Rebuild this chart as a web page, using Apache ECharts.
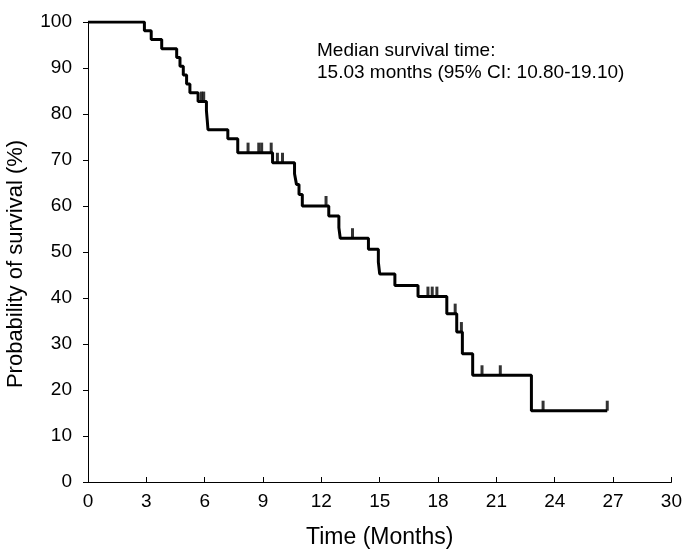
<!DOCTYPE html>
<html>
<head>
<meta charset="utf-8">
<script src="https://cdn.jsdelivr.net/npm/echarts@6/dist/echarts.min.js"></script>
<style>
html,body{margin:0;padding:0;background:#fff;}
#chart{width:685px;height:554px;}
</style>
</head>
<body>
<div id="chart"></div>
<script>
// Kaplan-Meier step points: time (months) where each survival level starts
var stepTimes = [0, 2.9, 3.25, 3.79, 4.56, 4.73, 4.9, 5.07, 5.24, 5.66, 6.09, 6.13, 6.17, 7.19, 7.7, 9.49, 10.62, 10.72, 10.85, 11.02, 12.38, 12.9, 12.97, 14.42, 14.93, 15.0, 15.78, 16.97, 18.45, 18.96, 19.25, 19.78, 22.8, 26.7];
var stepSurv  = [100, 98.1, 96.2, 94.2, 92.3, 90.4, 88.5, 86.5, 84.6, 82.7, 80.7, 78.7, 76.6, 74.6, 71.6, 69.4, 67.0, 64.7, 62.5, 60.0, 57.8, 55.3, 53.0, 50.6, 47.8, 45.2, 42.7, 40.3, 36.6, 32.6, 27.9, 23.2, 15.5, 15.5];
// Censored observations
var censorTimes = [5.83, 5.95, 8.23, 8.78, 8.93, 9.42, 9.74, 10.0, 12.24, 13.6, 17.48, 17.7, 17.94, 18.88, 19.2, 20.26, 21.2, 23.4, 26.7];
var censorSurv  = [82.7, 82.7, 71.6, 71.6, 71.6, 71.6, 69.4, 69.4, 60.0, 53.0, 40.3, 40.3, 40.3, 36.6, 32.6, 23.2, 23.2, 15.5, 15.5];
var xTicks = [0, 3, 6, 9, 12, 15, 18, 21, 24, 27, 30];
var yTicks = [0, 10, 20, 30, 40, 50, 60, 70, 80, 90, 100];
var annotation = ['Median survival time:', '15.03 months (95% CI: 10.80-19.10)'];
var yTitle = 'Probability of survival (%)';
var xTitle = 'Time (Months)';

var FONT = '"Liberation Sans", Arial, sans-serif';
var kmData = stepTimes.map(function (t, i) { return [t, stepSurv[i]]; });
var censorData = censorTimes.map(function (t, i) { return [t, censorSurv[i]]; });

var chart = echarts.init(document.getElementById('chart'), null, {renderer: 'canvas'});
chart.setOption({
  animation: false,
  backgroundColor: '#fff',
  title: {
    text: annotation.join('\n'),
    left: 312, top: 35,
    textStyle: {fontFamily: FONT, fontSize: 19, fontWeight: 'normal', color: '#000', lineHeight: 22}
  },
  graphic: [{
    type: 'text', x: 16, y: 264, rotation: Math.PI / 2,
    style: {text: yTitle, font: '22px ' + FONT, fill: '#000', align: 'center', verticalAlign: 'middle'}
  }],
  grid: {left: 88, right: 6, top: 22, bottom: 68, containLabel: false},
  xAxis: {
    type: 'value', min: xTicks[0], max: xTicks[xTicks.length - 1], interval: 3,
    name: xTitle, nameLocation: 'middle', nameGap: 44,
    nameTextStyle: {fontFamily: FONT, fontSize: 23, color: '#000'},
    axisLine: {lineStyle: {color: '#000', width: 1}},
    axisTick: {inside: true, length: 5, lineStyle: {color: '#000'}},
    axisLabel: {fontFamily: FONT, fontSize: 19, color: '#000', margin: 10},
    splitLine: {show: false}
  },
  yAxis: {
    type: 'value', min: yTicks[0], max: yTicks[yTicks.length - 1], interval: 10,
    axisLine: {show: true, lineStyle: {color: '#000', width: 1}},
    axisTick: {show: true, inside: false, length: 5, lineStyle: {color: '#000'}},
    axisLabel: {fontFamily: FONT, fontSize: 19, color: '#000', margin: 16},
    splitLine: {show: false}
  },
  series: [
    {
      type: 'line', step: 'end', data: kmData, symbol: 'none',
      lineStyle: {color: '#000', width: 3}, z: 3
    },
    {
      type: 'scatter', data: censorData,
      symbol: 'rect', symbolSize: [3, 10], symbolOffset: [0, -5],
      itemStyle: {color: '#000'}, z: 4
    }
  ]
});
</script>
</body>
</html>
